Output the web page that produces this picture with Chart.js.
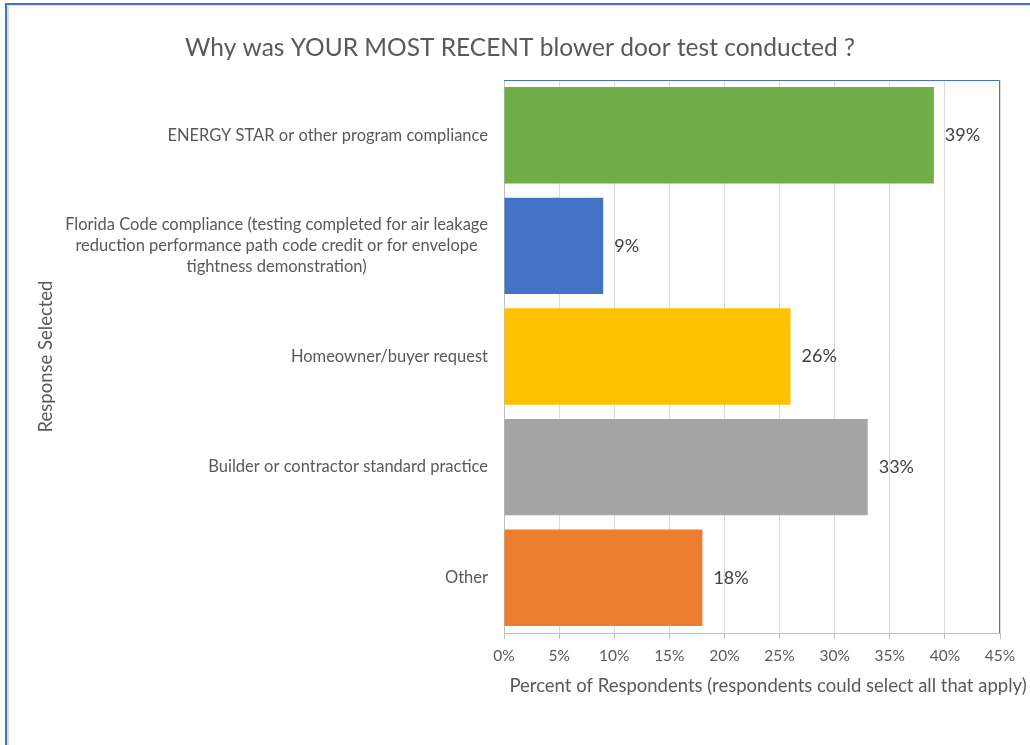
<!DOCTYPE html>
<html>
<head>
<meta charset="utf-8">
<title>Blower door test survey</title>
<script src="https://cdn.jsdelivr.net/npm/chart.js@4.4.0/dist/chart.umd.min.js"></script>
<style>
  html, body { margin: 0; padding: 0; background: #fff; overflow: hidden; }
  #wrap { position: relative; width: 1030px; height: 745px; }
  canvas { position: absolute; left: 0; top: 0; }
  /* outer chart frame, only the top and left edges show in the picture */
  #frame { position: absolute; left: 5px; top: 3px; right: -10px; bottom: -10px;
           border-left: 2px solid #4472c4; border-top: 2px solid #4472c4; pointer-events: none; }
  #frame div { position: absolute; left: 0; top: 0; right: 0; bottom: 0;
               border-left: 2px solid #dadada; border-top: 1px solid #e4e4e4; }
</style>
</head>
<body>
<div id="wrap">
  <canvas id="myChart" width="1030" height="745"></canvas>
  <div id="frame"><div></div></div>
</div>
<script>
// ---- data ----
var chartTitle = 'Why was YOUR MOST RECENT blower door test conducted ?';
var categories = [
  ['ENERGY STAR or other program compliance'],
  ['Florida Code compliance (testing completed for air leakage',
   'reduction performance path code credit or for envelope',
   'tightness demonstration)'],
  ['Homeowner/buyer request'],
  ['Builder or contractor standard practice'],
  ['Other']
];
var percents = [39, 9, 26, 33, 18];
var barColors = ['#70ad47', '#4472c4', '#ffc000', '#a5a5a5', '#ed7d31'];
var xMin = 0, xMax = 45, xStep = 5;
var xTitle = 'Percent of Respondents (respondents could select all that apply)';
var yTitle = 'Response Selected';

var fontFamily = 'Lato, "Open Sans", sans-serif';
var textGray = '#595959';

// draws the texts Excel places itself: title, wrapped category labels,
// axis titles, value labels, and the blue plot-area edge
var textPlugin = {
  id: 'textPlugin',
  afterDraw: function(chart) {
    var ctx = chart.ctx;
    var area = chart.chartArea;
    var xs = chart.scales.x;
    var ys = chart.scales.y;
    ctx.save();

    // plot area edge (top and right)
    ctx.strokeStyle = '#4472c4';
    ctx.lineWidth = 1;
    ctx.beginPath();
    ctx.moveTo(area.left, area.top + 0.5);
    ctx.lineTo(area.right - 0.5, area.top + 0.5);
    ctx.lineTo(area.right - 0.5, area.bottom);
    ctx.stroke();

    // chart title
    ctx.fillStyle = textGray;
    ctx.textAlign = 'center';
    ctx.textBaseline = 'middle';
    ctx.font = '24.5px ' + fontFamily;
    ctx.fillText(chartTitle, 520, 48);

    // category labels: block right aligned to the axis, lines centred in the block
    ctx.font = '16.5px ' + fontFamily;
    for (let i = 0; i < categories.length; i++) {
      let lines = categories[i];
      let w = 0;
      for (let j = 0; j < lines.length; j++) {
        w = Math.max(w, ctx.measureText(lines[j]).width);
      }
      let cx = area.left - 16 - w / 2;
      let cy = ys.getPixelForValue(i);
      for (let j = 0; j < lines.length; j++) {
        ctx.fillText(lines[j], cx, cy + (j - (lines.length - 1) / 2) * 21);
      }
    }

    // axis titles
    ctx.font = '18.5px ' + fontFamily;
    ctx.fillText(xTitle, 768, 686);
    ctx.save();
    ctx.translate(46, (area.top + area.bottom) / 2);
    ctx.rotate(-Math.PI / 2);
    ctx.fillText(yTitle, 0, 0);
    ctx.restore();

    // value labels
    ctx.fillStyle = '#404040';
    ctx.textAlign = 'left';
    ctx.font = '18px ' + fontFamily;
    for (let i = 0; i < percents.length; i++) {
      ctx.fillText(percents[i] + '%', xs.getPixelForValue(percents[i]) + 11, ys.getPixelForValue(i));
    }
    ctx.restore();
  }
};

var ctx = document.getElementById('myChart').getContext('2d');
var chart = new Chart(ctx, {
  type: 'bar',
  data: {
    labels: categories.map(function(c) { return c.join(' '); }),
    datasets: [{
      label: 'Percent of Respondents',
      data: percents,
      backgroundColor: barColors,
      borderWidth: 0,
      categoryPercentage: 1,
      barPercentage: 0.872
    }]
  },
  options: {
    indexAxis: 'y',
    responsive: false,
    animation: false,
    layout: { padding: { left: 0, top: 80, right: 30, bottom: 0 } },
    plugins: {
      legend: { display: false },
      tooltip: { enabled: false },
      title: { display: false }
    },
    scales: {
      x: {
        type: 'linear',
        min: xMin,
        max: xMax,
        afterFit: function(scale) { scale.height = 112; },
        ticks: {
          stepSize: xStep,
          padding: 8,
          color: textGray,
          font: { family: fontFamily, size: 15.5 },
          callback: function(v) { return v + '%'; }
        },
        grid: { color: '#d9d9d9', tickColor: '#bfbfbf', tickLength: 6, drawTicks: true },
        border: { color: '#bfbfbf' }
      },
      y: {
        afterFit: function(scale) { scale.width = 504; },
        ticks: { display: false },
        grid: { display: false, drawTicks: false },
        border: { color: '#bfbfbf' }
      }
    }
  },
  plugins: [textPlugin]
});
</script>
</body>
</html>
